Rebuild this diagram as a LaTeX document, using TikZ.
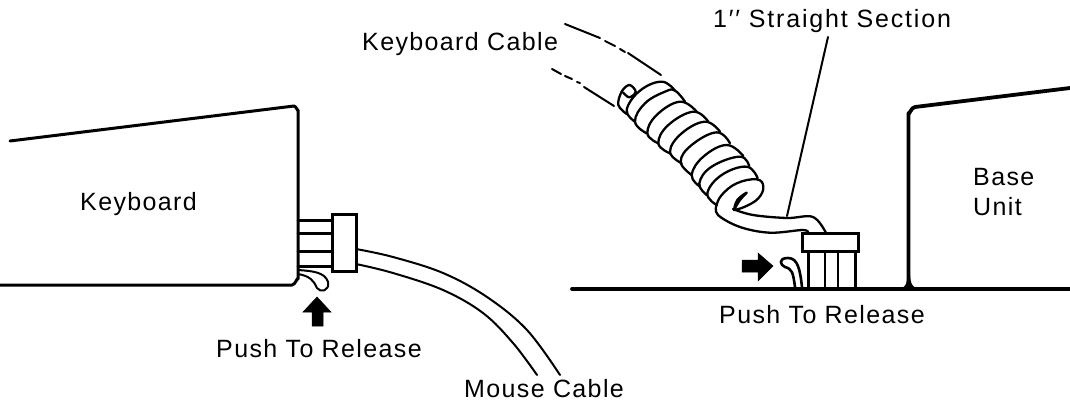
\documentclass[tikz,border=0pt]{standalone}
\usepackage{fontspec}
\setmainfont[LetterSpace=5.5]{Liberation Sans}
\newfontfamily\widerfont[LetterSpace=7.3]{Liberation Sans}
\tikzset{
  lbl/.style={font=\fontsize{25}{30}\selectfont,inner sep=0pt,anchor=base west},
  ink/.style={draw=black,line width=3pt,line cap=round,line join=round},
  heavy/.style={draw=black,line width=3.8pt,line cap=round,line join=round},
  thinline/.style={draw=black,line width=2pt,line cap=round,line join=round},
  coilturn/.style={draw=black,line width=2.3pt,line cap=round,line join=round},
  solidarrow/.style={fill=black,draw=black,line width=0.5pt,line join=miter},
  conn/.style={draw=black,line width=3pt,inner sep=0pt,fill=white}
}
\begin{document}
\begin{tikzpicture}[x=1pt,y=-1pt]
\useasboundingbox (0,0) rectangle (1070,402);
% Keyboard body
\draw[ink] (10,141) -- (294,106) to[out=-5,in=-90] (298,110) -- (298,279) to[out=90,in=0] (292,285) -- (0,285);
% Keyboard prongs and connector
\draw[ink] (298,220) -- (334,220) (298,233) -- (334,233) (298,251) -- (334,251) (298,266) -- (334,266);
\node[conn,minimum width=24pt,minimum height=57pt] (kconn) at (344,242.5) {};
% Keyboard latch
\draw[thinline] (298,270) .. controls (312,271) and (325,272) .. (328,282) .. controls (330,291) and (320,293) .. (317,288) .. controls (314,281) and (310,276) .. (298,274);
% Up arrow
\fill[solidarrow] (317,297) -- (331,312) -- (323,312) -- (323,326) -- (312,326) -- (312,312) -- (303,312) -- cycle;
% Mouse cable
\draw[thinline] plot[smooth,tension=0.6] coordinates {(356,249) (393,257) (443,273) (487,297) (527,330) (560,375)};
\draw[thinline] plot[smooth,tension=0.6] coordinates {(356,264) (393,273) (443,290) (483,313) (513,343) (537,375)};
% Labels
\node[lbl] (keyboard) at (80,210) {Keyboard};
\node[lbl] (pushl) at (216,357) {Push To Release};
\node[lbl] (mouse) at (464,397) {Mouse Cable};
\node[lbl] (kcable) at (362,50) {Keyboard Cable};
\node[lbl] (straight) at (713,27) {\widerfont 1′′ Straight Section};
\node[lbl] (pushr) at (719,323) {Push To Release};
\node[lbl] (base) at (973,185) {Base};
\node[lbl] (unit) at (973,215) {Unit};
% Dash-dot cable continuation lines
\draw[thinline] (565,24) -- (600,38) (605,41) -- (615,46) (620,49) -- (625,52) (628,53) -- (661,75);
\draw[thinline] (552,69) -- (561,74) (565,76) -- (572,79) (577,82) -- (580,83) (584,87) -- (614,106);
% Coil
\begin{scope}[shift={(590,50)},x=0.33333pt,y=-0.33333pt]
\draw[coilturn] plot[smooth,tension=0.6] coordinates {(110,192) (85,165) (95,125) (118,105) (137,125) (118,142) (100,128)};
\draw[coilturn] plot[smooth,tension=0.7] coordinates {(135,215) (110,180) (150,122) (215,95) (255,122)};
\draw[coilturn] plot[smooth,tension=0.7] coordinates {(170,250) (135,215) (165,160) (225,125) (255,122) (285,155)};
\draw[coilturn] plot[smooth,tension=0.7] coordinates {(205,280) (172,250) (200,195) (270,155) (320,185)};
\draw[coilturn] plot[smooth,tension=0.7] coordinates {(240,310) (205,280) (235,225) (310,185) (355,215)};
\draw[coilturn] plot[smooth,tension=0.7] coordinates {(275,340) (240,305) (275,250) (345,215) (390,245)};
\draw[coilturn] plot[smooth,tension=0.7] coordinates {(305,375) (272,335) (305,285) (380,247) (420,280)};
\draw[coilturn] plot[smooth,tension=0.7] coordinates {(330,410) (305,375) (340,320) (410,285) (460,318)};
\draw[coilturn] plot[smooth,tension=0.7] coordinates {(350,435) (328,400) (365,350) (450,320) (478,350)};
\draw[coilturn] plot[smooth,tension=0.7] coordinates {(380,465) (352,430) (395,375) (470,350) (503,385)};
\draw[coilturn] plot[smooth,tension=0.7] coordinates {(380,465) (395,435) (440,400) (500,388) (520,410) (505,445) (465,470) (432,480)};
\draw[coilturn] plot[smooth,tension=0.7] coordinates {(432,480) (442,450) (470,428) (450,450) (432,480)};
\end{scope}
% Base unit and table line
\draw[heavy] (572,289) -- (1070,289);
\draw[heavy] (1070,88) -- (915,107) to[out=175,in=-90] (908.5,113) -- (908.5,287);
\fill[black] (901,288) .. controls (906,287) and (907,283) .. (907.5,275) -- (910,275) .. controls (910.5,283) and (912,287) .. (917,288) -- cycle;
% Right connector prongs
\draw[ink] (808,250) -- (808,288) (855,250) -- (855,288);
\draw[thinline,line width=2.6pt] (825,250) -- (825,288) (838,250) -- (838,288);
% Cable to connector
\draw[coilturn] plot[smooth,tension=0.6] coordinates {(716.5,205) (718,215) (740,227) (770,232.7) (803,230) (808,233)};
\draw[coilturn] plot[smooth,tension=0.6] coordinates {(733,209) (753,215) (787,218) (813,217) (826,233)};
\node[conn,minimum width=56pt,minimum height=18pt] (rconn) at (830,242) {};
% Straight section leader
\coordinate (leadtop) at (828,37);
\coordinate (leadbot) at (787,216);
\draw[thinline] (leadtop) -- (leadbot);
% Right latch
\draw[thinline,line width=2.6pt] (802,287) .. controls (800,270) and (798,258) .. (788,258) .. controls (778,258) and (780,265) .. (785,267) .. controls (792,269) and (793,272) .. (795,287);
% Right arrow
\fill[solidarrow] (742,260) -- (758,260) -- (758,253) -- (773,266) -- (758,281) -- (758,272) -- (742,272) -- cycle;
\end{tikzpicture}
\end{document}
